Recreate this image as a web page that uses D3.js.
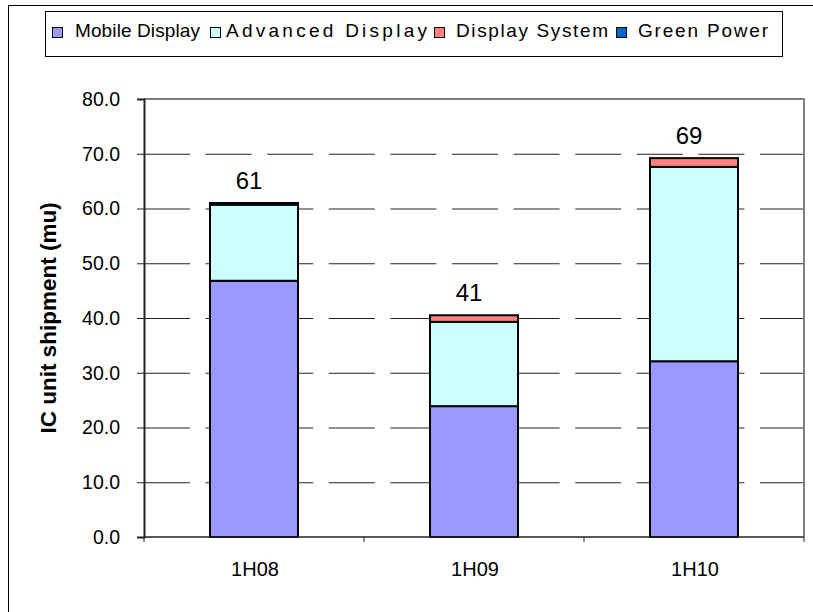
<!DOCTYPE html>
<html><head><meta charset="utf-8">
<script src="https://cdn.jsdelivr.net/npm/d3@7"></script>
<style>body{margin:0;background:#fff;} svg{display:block;font-family:"Liberation Sans", Arial, sans-serif;}</style>
</head><body>
<svg id="chart" width="813" height="612"></svg>
<script>
const categories = ["1H08", "1H09", "1H10"];
const seriesNames = ["Mobile Display", "Advanced Display", "Display System", "Green Power"];
const mobileDisplay = [46.8, 23.9, 32.1];
const advancedDisplay = [13.9, 15.4, 35.5];
const displaySystem = [0.0, 1.2, 1.6];
const greenPower = [0.3, 0.0, 0.0];
const totalLabels = ["61", "41", "69"];
const yTicks = [0, 10, 20, 30, 40, 50, 60, 70, 80];
const colors = ["#9999FF", "#CCFFFF", "#FF8080", "#0066CC"];

const FONT = "'Liberation Sans', Arial, sans-serif";
const svg = d3.select("#chart");
const margin = {left: 144, top: 99, right: 804, bottom: 537};

// outer frame
svg.append("rect").attr("x", 8.5).attr("y", 5.5).attr("width", 830).attr("height", 630)
  .attr("fill", "#fff").attr("stroke", "#000").attr("stroke-width", 1);

const x = d3.scaleBand().domain(categories).range([margin.left, margin.right]).paddingInner(0.6).paddingOuter(0.3);
const xb = d3.scaleBand().domain(categories).range([margin.left, margin.right]);
const y = d3.scaleLinear().domain([0, 80]).range([margin.bottom, margin.top]);

const table = categories.map((c, i) => ({cat: c, "Mobile Display": mobileDisplay[i], "Advanced Display": advancedDisplay[i], "Display System": displaySystem[i], "Green Power": greenPower[i]}));
const stacked = d3.stack().keys(seriesNames)(table);

// gridlines
svg.append("g").selectAll("line").data(yTicks.filter(t => t > 0 && t < 80)).join("line")
  .attr("x1", margin.left).attr("x2", margin.right)
  .attr("y1", d => y(d) + 0.5).attr("y2", d => y(d) + 0.5)
  .attr("stroke", "#222").attr("stroke-width", 1).attr("stroke-dasharray", "46,15.6");

// plot border top & right
svg.append("path").attr("d", `M${margin.left},${margin.top}H${margin.right}V${margin.bottom}`)
  .attr("fill", "none").attr("stroke", "#808080").attr("stroke-width", 2);

// bars
const gBars = svg.append("g");
stacked.forEach((s, si) => {
  gBars.append("g").selectAll("rect").data(s.filter(d => d[1] - d[0] > 0)).join("rect")
    .attr("x", d => x(d.data.cat)).attr("width", x.bandwidth())
    .attr("y", d => y(d[1])).attr("height", d => y(d[0]) - y(d[1]))
    .attr("fill", colors[si]).attr("stroke", "#000").attr("stroke-width", 2);
});

// y axis
const yAxis = d3.axisLeft(y).tickValues(yTicks).tickFormat(d3.format(".1f")).tickSize(7).tickPadding(17);
const gy = svg.append("g").attr("transform", `translate(${margin.left},0)`).call(yAxis);
gy.select(".domain").attr("stroke", "#222").attr("stroke-width", 2);
gy.selectAll(".tick line").attr("stroke", "#222");
gy.selectAll("text").attr("font-size", 19.5).attr("fill", "#000").attr("font-family", FONT);

// x axis
const gx = svg.append("g").attr("transform", `translate(0,${margin.bottom})`);
gx.append("line").attr("x1", margin.left).attr("x2", margin.right).attr("y1", 0).attr("y2", 0).attr("stroke", "#222").attr("stroke-width", 1.5);
const bounds = categories.map(c => xb(c)).concat([margin.right]);
gx.selectAll("line.t").data(bounds).join("line").attr("class", "t")
  .attr("x1", d => d).attr("x2", d => d).attr("y1", 0).attr("y2", 5).attr("stroke", "#222");
gx.selectAll("text").data(categories).join("text")
  .attr("x", d => xb(d) + xb.bandwidth() / 2 + 1).attr("y", 39)
  .attr("text-anchor", "middle").attr("font-size", 20).attr("font-family", FONT).text(d => d);

// total labels
const totals = categories.map((c, i) => mobileDisplay[i] + advancedDisplay[i] + displaySystem[i] + greenPower[i]);
svg.append("g").selectAll("text").data(categories).join("text")
  .attr("x", d => x(d) + x.bandwidth() / 2 - 5).attr("y", (d, i) => y(totals[i]) - 14)
  .attr("text-anchor", "middle").attr("font-size", 24).attr("font-family", FONT).text((d, i) => totalLabels[i]);

// y title
svg.append("text").attr("transform", `translate(56,${(margin.top + margin.bottom) / 2}) rotate(-90)`)
  .attr("text-anchor", "middle").attr("font-size", 22.5).attr("font-weight", "bold").attr("font-family", FONT)
  .text("IC unit shipment (mu)");

// legend
const lg = svg.append("g");
lg.append("rect").attr("x", 45.5).attr("y", 11.5).attr("width", 737).attr("height", 45)
  .attr("fill", "#fff").attr("stroke", "#000").attr("stroke-width", 1);
const legendSwatchX = [52, 210, 434, 616];
const legendTextX = [75, 226, 456, 638];
const legendTextW = [125, 201, 152, 130];
seriesNames.forEach((name, i) => {
  lg.append("rect").attr("x", legendSwatchX[i] + 0.5).attr("y", 27.5).attr("width", 10).attr("height", 10)
    .attr("fill", colors[i]).attr("stroke", "#000").attr("stroke-width", 1);
  lg.append("text").attr("x", legendTextX[i]).attr("y", 37).attr("font-size", 19).attr("font-family", FONT)
    .attr("textLength", legendTextW[i]).attr("lengthAdjust", "spacing").text(name);
});
</script>
</body></html>
